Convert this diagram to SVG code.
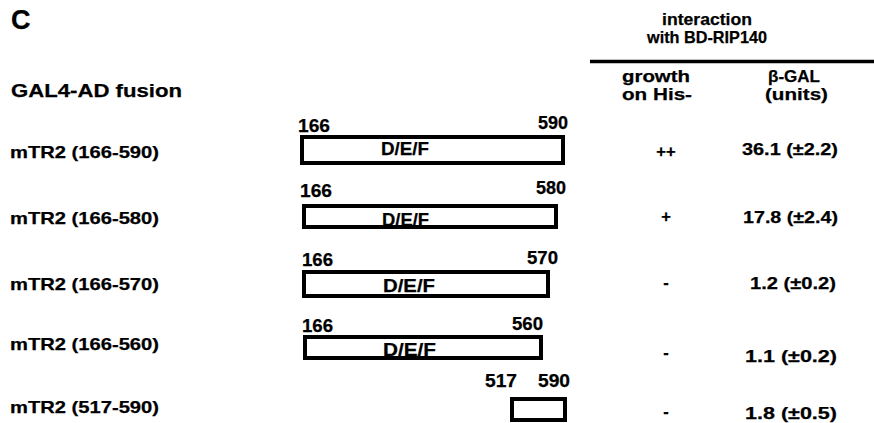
<svg xmlns="http://www.w3.org/2000/svg" width="874" height="423" viewBox="0 0 874 423">
  <style>
    text { font-family: "Liberation Sans", Arial, Helvetica, sans-serif; font-weight: bold; fill: #000; stroke: #000; stroke-width: 0.25; }
    .panel { font-size: 27px; }
    .head { font-size: 18.5px; }
    .hdr { font-size: 17px; }
    .row { font-size: 17px; }
    .pos { font-size: 17.5px; }
    .dom { font-size: 19px; }
    .val { font-size: 16.5px; }
    .mid { text-anchor: middle; }
    .end { text-anchor: end; }
    .bar { fill: #fff; stroke: #000; stroke-width: 4; }
    .rule { stroke: #000; stroke-width: 3.5; }
  </style>

  <!-- panel letter and column headings -->
  <g id="headings">
    <text class="panel" x="11" y="29">C</text>
    <text class="head" x="11" y="97" textLength="171" lengthAdjust="spacingAndGlyphs">GAL4-AD fusion</text>
    <text class="hdr mid" x="707" y="25" textLength="90" lengthAdjust="spacingAndGlyphs">interaction</text>
    <text class="hdr mid" x="707" y="43" textLength="120" lengthAdjust="spacingAndGlyphs">with BD-RIP140</text>
    <line class="rule" x1="590" y1="61.5" x2="874" y2="61.5"/>
    <text class="hdr" x="622" y="82" textLength="68" lengthAdjust="spacingAndGlyphs">growth</text>
    <text class="hdr" x="622" y="100" textLength="70" lengthAdjust="spacingAndGlyphs">on His-</text>
    <text class="hdr" x="768" y="82" textLength="52" lengthAdjust="spacingAndGlyphs">β-GAL</text>
    <text class="hdr" x="765" y="100" textLength="63" lengthAdjust="spacingAndGlyphs">(units)</text>
  </g>

  <!-- construct 166-590 -->
  <g id="row-166-590">
    <text class="row" x="10" y="158" textLength="149" lengthAdjust="spacingAndGlyphs">mTR2 (166-590)</text>
    <text class="pos" x="298" y="132" textLength="32" lengthAdjust="spacingAndGlyphs">166</text>
    <text class="pos end" x="568" y="129" textLength="30" lengthAdjust="spacingAndGlyphs">590</text>
    <rect class="bar" x="302" y="137" width="261" height="26"/>
    <text class="dom" x="381" y="155" textLength="48" lengthAdjust="spacingAndGlyphs">D/E/F</text>
    <text class="val mid" x="666" y="157">++</text>
    <text class="val" x="742" y="155" textLength="96" lengthAdjust="spacingAndGlyphs">36.1 (±2.2)</text>
  </g>

  <!-- construct 166-580 -->
  <g id="row-166-580">
    <text class="row" x="10" y="224" textLength="149" lengthAdjust="spacingAndGlyphs">mTR2 (166-580)</text>
    <text class="pos" x="300" y="197" textLength="32" lengthAdjust="spacingAndGlyphs">166</text>
    <text class="pos end" x="566" y="194" textLength="30" lengthAdjust="spacingAndGlyphs">580</text>
    <rect class="bar" x="304" y="206" width="252" height="21"/>
    <text class="dom" x="382" y="226" textLength="47" lengthAdjust="spacingAndGlyphs">D/E/F</text>
    <text class="val mid" x="666" y="222">+</text>
    <text class="val" x="743" y="223" textLength="95" lengthAdjust="spacingAndGlyphs">17.8 (±2.4)</text>
  </g>

  <!-- construct 166-570 -->
  <g id="row-166-570">
    <text class="row" x="10" y="290" textLength="149" lengthAdjust="spacingAndGlyphs">mTR2 (166-570)</text>
    <text class="pos" x="302" y="266" textLength="31" lengthAdjust="spacingAndGlyphs">166</text>
    <text class="pos end" x="558" y="264" textLength="31" lengthAdjust="spacingAndGlyphs">570</text>
    <rect class="bar" x="304" y="272" width="244" height="24"/>
    <text class="dom" x="383" y="292" textLength="52" lengthAdjust="spacingAndGlyphs">D/E/F</text>
    <text class="val mid" x="666" y="288">-</text>
    <text class="val" x="750" y="289" textLength="86" lengthAdjust="spacingAndGlyphs">1.2 (±0.2)</text>
  </g>

  <!-- construct 166-560 -->
  <g id="row-166-560">
    <text class="row" x="10" y="350" textLength="149" lengthAdjust="spacingAndGlyphs">mTR2 (166-560)</text>
    <text class="pos" x="302" y="332" textLength="31" lengthAdjust="spacingAndGlyphs">166</text>
    <text class="pos end" x="543" y="330" textLength="31" lengthAdjust="spacingAndGlyphs">560</text>
    <rect class="bar" x="305" y="337" width="236" height="21"/>
    <text class="dom" x="383" y="356" textLength="53" lengthAdjust="spacingAndGlyphs">D/E/F</text>
    <text class="val mid" x="666" y="358">-</text>
    <text class="val" x="745" y="362" textLength="92" lengthAdjust="spacingAndGlyphs">1.1 (±0.2)</text>
  </g>

  <!-- construct 517-590 -->
  <g id="row-517-590">
    <text class="row" x="10" y="413" textLength="149" lengthAdjust="spacingAndGlyphs">mTR2 (517-590)</text>
    <text class="pos" x="485" y="387" textLength="32" lengthAdjust="spacingAndGlyphs">517</text>
    <text class="pos" x="538" y="387" textLength="32" lengthAdjust="spacingAndGlyphs">590</text>
    <rect class="bar" x="512" y="399" width="53" height="21"/>
    <text class="val mid" x="666" y="417">-</text>
    <text class="val" x="745" y="419" textLength="92" lengthAdjust="spacingAndGlyphs">1.8 (±0.5)</text>
  </g>
</svg>
